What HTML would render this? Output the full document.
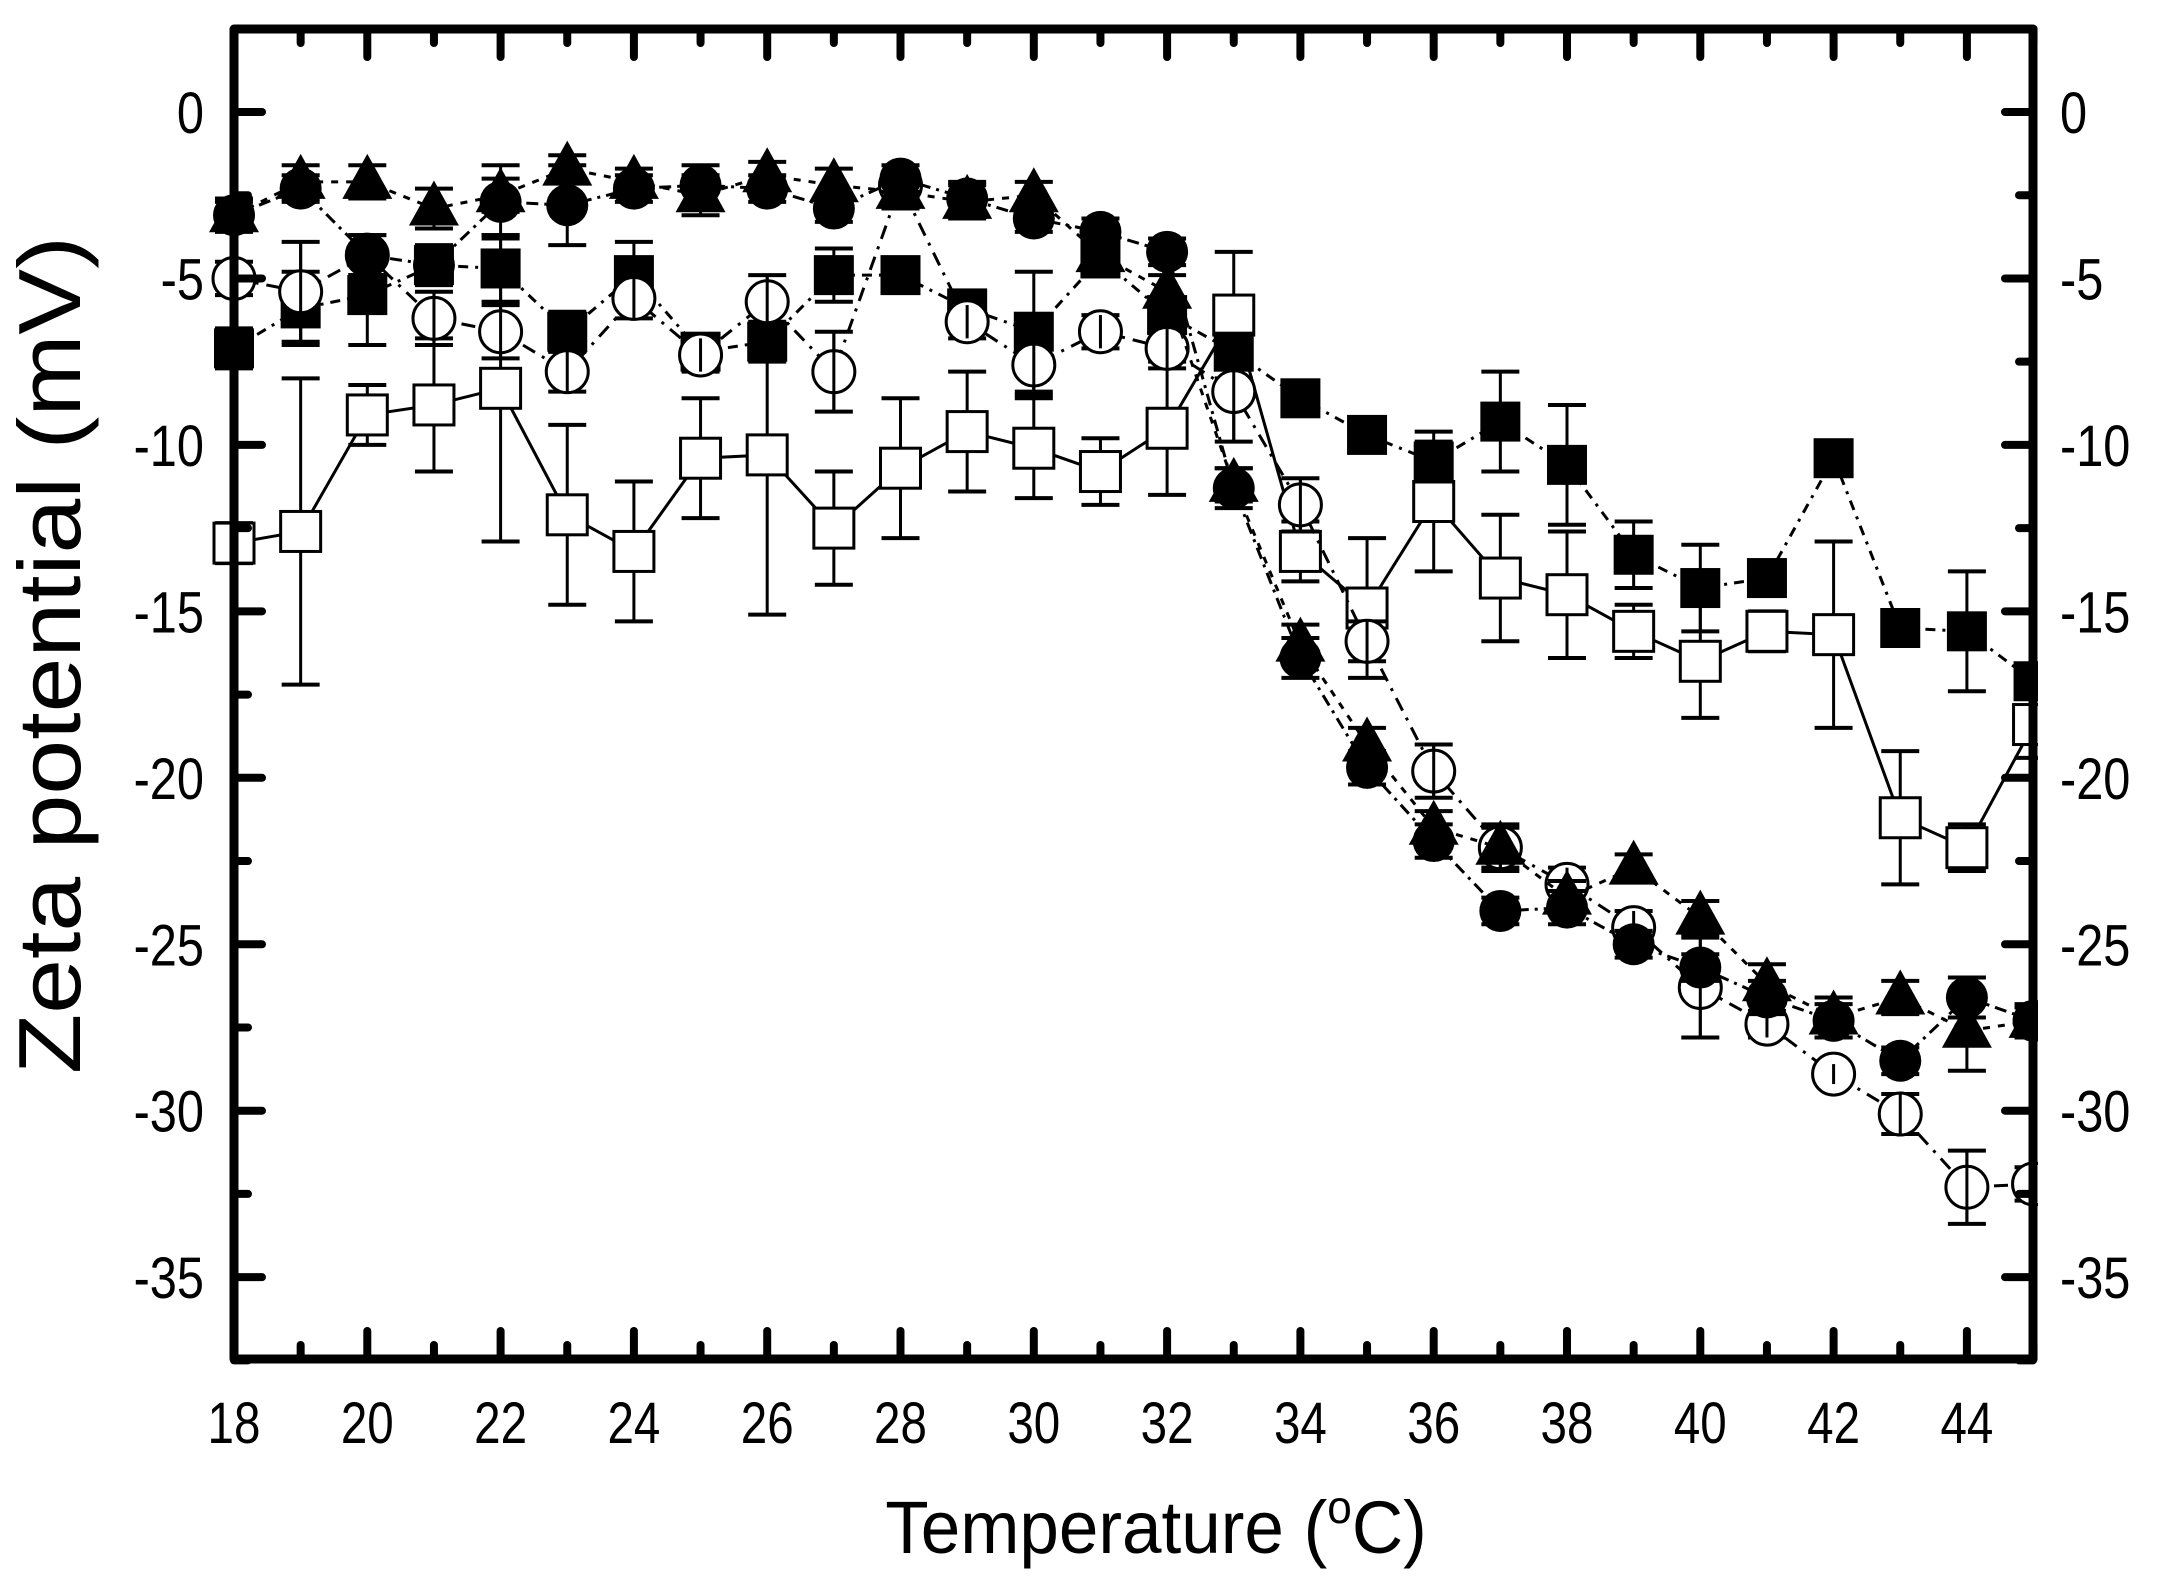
<!DOCTYPE html>
<html><head><meta charset="utf-8"><style>
html,body{margin:0;padding:0;background:#fff}
svg{display:block}
text{font-family:"Liberation Sans",Arial,sans-serif;fill:#000}
</style></head><body>
<svg id="s" width="2158" height="1577" viewBox="0 0 2158 1577" xmlns="http://www.w3.org/2000/svg">
<rect width="2158" height="1577" fill="#fff"/>
<g id="data"></g>
<g id="axes"></g>
<text transform="translate(1156,1553) scale(0.96,1)" font-size="74" text-anchor="middle">Temperature (<tspan font-size="46" dy="-30">o</tspan><tspan dy="30">C)</tspan></text>
<text transform="translate(80,655) rotate(-90) scale(1.12,1)" font-size="88" text-anchor="middle">Zeta potential (mV)</text>
</svg>
<script>
const NS="http://www.w3.org/2000/svg";
const X=t=>234+(t-18)*66.65, Y=v=>112-v*33.29;
function el(p,n,a){const e=document.createElementNS(NS,n);for(const k in a)e.setAttribute(k,a[k]);p.appendChild(e);return e;}
const ax=document.getElementById('axes'), dg=document.getElementById('data');
el(ax,'rect',{x:234,y:29,width:1799,height:1330,fill:'none',stroke:'#000','stroke-width':9,'stroke-linejoin':'round'});
for(let t=18;t<=45;t++){const x=X(t),maj=(t%2==0),L=maj?28:14;
 el(ax,'line',{x1:x,y1:1359,x2:x,y2:1359-L,stroke:'#000','stroke-width':8,'stroke-linecap':'round'});
 el(ax,'line',{x1:x,y1:29,x2:x,y2:29+L,stroke:'#000','stroke-width':8,'stroke-linecap':'round'});
 if(maj&&t<45){const tx=el(ax,'text',{transform:`translate(${x},1443) scale(0.82,1)`,'font-size':58,'text-anchor':'middle'});tx.textContent=t;}}
for(let v=0;v>=-37.5;v-=2.5){const y=Y(v),maj=(v%5==0),L=maj?28:14;
 el(ax,'line',{x1:234,y1:y,x2:234+L,y2:y,stroke:'#000','stroke-width':8,'stroke-linecap':'round'});
 el(ax,'line',{x1:2033,y1:y,x2:2033-L,y2:y,stroke:'#000','stroke-width':8,'stroke-linecap':'round'});
 if(maj){let a=el(ax,'text',{transform:`translate(204,${y+21}) scale(0.84,1)`,'font-size':58,'text-anchor':'end'});a.textContent=v;
 let b=el(ax,'text',{transform:`translate(2060,${y+21}) scale(0.84,1)`,'font-size':58});b.textContent=v;}}
const T=[];for(let t=18;t<=45;t++)T.push(t);
const S=[
{m:'osq',dash:'',v:[-12.95,-12.6,-9.1,-8.8,-8.3,-12.1,-13.2,-10.4,-10.3,-12.5,-10.7,-9.6,-10.1,-10.8,-9.5,-6.1,-13.2,-14.9,-11.7,-14.0,-14.5,-15.6,-16.5,-15.6,-15.7,-21.2,-22.1,-18.4],
 e:[0.6,4.6,0.9,2,4.6,2.7,2.1,1.8,4.8,1.7,2.1,1.8,1.5,1,2,1.9,0.9,2.1,2.1,1.9,1.9,0.8,1.7,0.6,2.8,2,0.7,1]},
{m:'fsq',dash:'10,7,3,7',v:[-7.1,-5.9,-5.5,-4.6,-4.7,-6.6,-4.9,-7.2,-6.9,-4.9,-4.9,-5.9,-6.6,-4.4,-6.1,-7.2,-8.6,-9.7,-10.5,-9.3,-10.6,-13.3,-14.3,-14.0,-10.4,-15.5,-15.6,-17.1],
 e:[0.6,1.1,1.5,0.6,1,0.6,1,0.5,0.6,0.8,0.4,0.4,1.8,0.5,0.5,0.5,0.4,0.4,0.6,1.5,1.8,1,1.3,0.4,0.4,0.4,1.8,0.5]},
{m:'oc',dash:'14,8,3,8',v:[-5.0,-5.4,-4.3,-6.2,-6.6,-7.8,-5.6,-7.3,-5.7,-7.8,-2.2,-6.3,-7.6,-6.6,-7.1,-8.4,-11.8,-15.9,-19.8,-22.1,-23.2,-24.5,-26.3,-27.4,-28.9,-30.1,-32.3,-32.2],
 e:[0.5,1.5,0.6,0.8,0.8,0.6,0.6,0.5,0.8,1.2,0.4,0.5,0.9,0.5,0.6,1.5,0.8,0.6,0.8,0.6,0.5,0.5,1.5,0.4,0.3,0.6,1.1,0.5]},
{m:'tri',dash:'7,8',v:[-3.1,-2.1,-2.1,-2.9,-2.5,-1.7,-2.1,-2.5,-1.9,-2.2,-2.4,-2.7,-2.5,-4.3,-5.4,-11.2,-16.0,-19.0,-21.5,-22.1,-23.6,-22.7,-24.2,-26.2,-27.2,-26.6,-27.6,-27.3],
 e:[0.5,0.5,0.5,0.6,0.5,0.4,0.4,0.6,0.4,0.5,0.5,0.5,0.4,0.5,0.5,0.5,0.6,0.5,0.5,0.7,0.5,0.4,0.5,0.6,0.6,0.5,1.2,0.5]},
{m:'fc',dash:'12,6,3,6',v:[-3.1,-2.3,-4.3,-4.6,-2.7,-2.8,-2.3,-2.2,-2.3,-2.9,-2.0,-2.6,-3.2,-3.6,-4.2,-11.3,-16.4,-19.7,-21.9,-24.0,-23.9,-25.0,-25.7,-26.6,-27.3,-28.5,-26.6,-27.3],
 e:[0.4,0.4,0.6,0.5,1.1,1.2,0.4,0.6,0.4,0.4,0.4,0.5,0.4,0.4,0.4,0.6,0.6,0.5,0.5,0.4,0.5,0.4,0.4,0.5,0.5,0.4,0.6,0.4]}
];
for(const s of S){
 const g=el(dg,'g',{});
 let pts=s.v.map((v,i)=>X(T[i])+','+Y(v)).join(' ');
 const pl={points:pts,fill:'none',stroke:'#000','stroke-width':3};if(s.dash)pl['stroke-dasharray']=s.dash;
 el(g,'polyline',pl);
 s.v.forEach((v,i)=>{const x=X(T[i]),y=Y(v),e=s.e[i]*33.29;
  el(g,'line',{x1:x,y1:y-e,x2:x,y2:y+e,stroke:'#000','stroke-width':3});
  el(g,'line',{x1:x-19,y1:y-e,x2:x+19,y2:y-e,stroke:'#000','stroke-width':4});
  el(g,'line',{x1:x-19,y1:y+e,x2:x+19,y2:y+e,stroke:'#000','stroke-width':4});});
 s.v.forEach((v,i)=>{const x=X(T[i]),y=Y(v);
  if(s.m=='osq')el(g,'rect',{x:x-20,y:y-20,width:40,height:40,fill:'#fff',stroke:'#000','stroke-width':3});
  if(s.m=='fsq')el(g,'rect',{x:x-20,y:y-20,width:40,height:40,fill:'#000'});
  if(s.m=='oc')el(g,'circle',{cx:x,cy:y,r:21,fill:'#fff',stroke:'#000','stroke-width':3});
  if(s.m=='fc')el(g,'circle',{cx:x,cy:y,r:21,fill:'#000'});
  if(s.m=='tri')el(g,'polygon',{points:`${x},${y-28} ${x-25},${y+17} ${x+25},${y+17}`,fill:'#000'});
  if(s.m=='oc'){const e=s.e[i]*33.29;el(g,'line',{x1:x,y1:y-e,x2:x,y2:y+e,stroke:'#000','stroke-width':3});}
 });
}
el(dg,'rect',{x:2038,y:0,width:120,height:1577,fill:'#fff'});
</script>
</body></html>
